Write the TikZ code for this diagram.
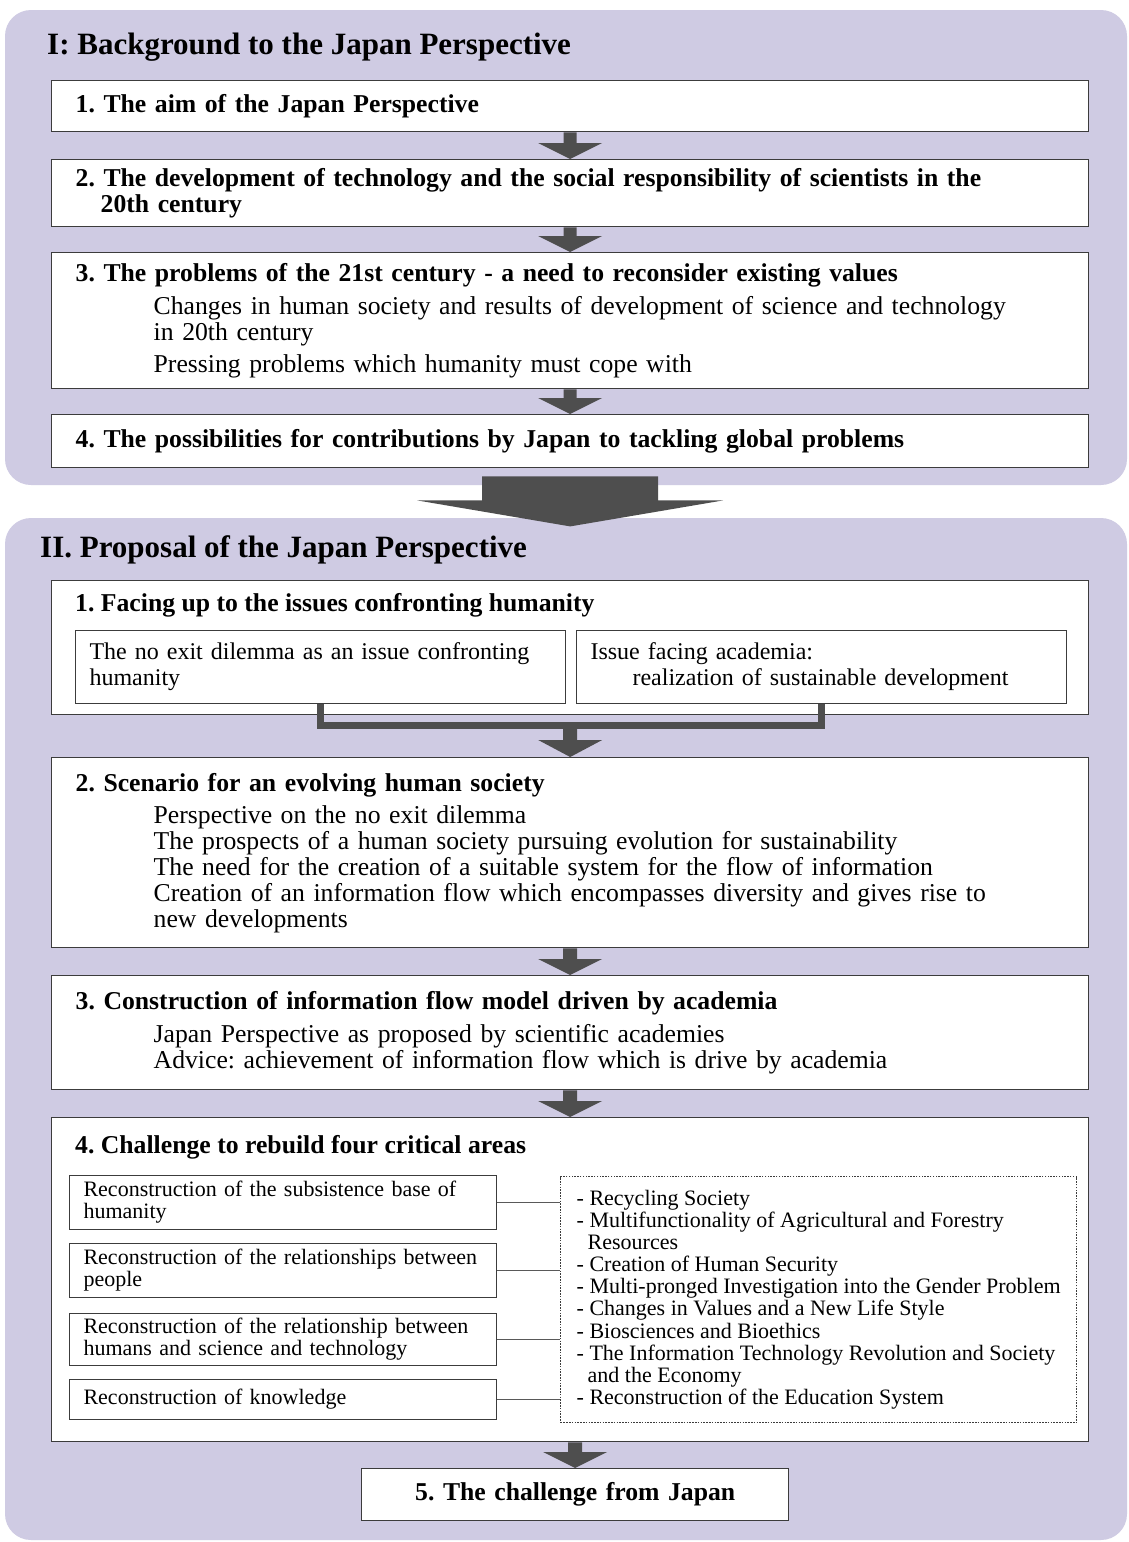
\documentclass[tikz,border=0pt]{standalone}
\usepackage{fontspec}
\setmainfont{Liberation Serif}
\usetikzlibrary{calc}
\definecolor{panelfill}{RGB}{207,203,227}
\definecolor{arrowgray}{RGB}{78,78,78}
\definecolor{linegray}{RGB}{60,60,60}
\newcommand\boxbody{\fontsize{25.7}{26}\selectfont\frenchspacing}
\newcommand\panelhead{\fontsize{31}{33}\selectfont\bfseries}
\newcommand\subbody{\fontsize{24}{26}\selectfont\frenchspacing}
\newcommand\smallbody{\fontsize{22}{22}\selectfont\frenchspacing}
\def\blockarrow(#1)(#2)(#3:#4:#5){\fill[arrowgray] let \p1=(#1), \p2=(#2) in (\x1-#3pt,\y1) -- (\x1-#3pt,\y2+#5pt) -- (\x1-#4pt,\y2+#5pt) -- (\x1,\y2) -- (\x1+#4pt,\y2+#5pt) -- (\x1+#3pt,\y2+#5pt) -- (\x1+#3pt,\y1) -- cycle;}

\begin{document}
\begin{tikzpicture}[x=1pt, y=-1pt,
    box/.style={draw=linegray, line width=1.4pt, fill=white, anchor=north west, inner xsep=24pt, inner ysep=3pt, text width=989pt, align=left, font=\boxbody},
    subbox/.style={draw=linegray, line width=1.1pt, fill=white, anchor=north west, inner xsep=14pt, inner ysep=2pt, text width=462pt, align=left, font=\subbody, minimum height=73pt},
    areabox/.style={draw=linegray, line width=1.1pt, fill=white, anchor=north west, inner xsep=14pt, inner ysep=2pt, text width=399pt, align=left, font=\smallbody},
    link/.style={draw=linegray!85, line width=1.2pt}]
    %%%%% START %%%%%

    \useasboundingbox (0,0) rectangle (1129,1542);
    \fill[white] (0,0) rectangle (1129,1542);

    % panels
    \fill[panelfill, rounded corners=26pt] (5,10) rectangle (1127,485);
    \fill[panelfill, rounded corners=26pt] (5,518) rectangle (1127,1540);

    \node[anchor=west, inner sep=0pt, font=\panelhead] (headI) at (47,47) {I: Background to the Japan Perspective};
    \node[anchor=west, inner sep=0pt, font=\panelhead] (headII) at (40,550) {II. Proposal of the Japan Perspective};

    % part I
    \node[box, minimum height=51pt] (aim) at (51,80) {\textbf{1. The aim of the Japan Perspective}};
    \node[box, minimum height=67pt] (devel) at (51,159) {\textbf{2. The development of technology and the social responsibility of scientists in the}\\
        \hspace*{25pt}\textbf{20th century}};
    \node[box, minimum height=136pt] (problems) at (51,252) {\textbf{3. The problems of the 21st century - a need to reconsider existing values}\\[7pt]
        \hspace*{78pt}Changes in human society and results of development of science and technology\\
        \hspace*{78pt}in 20th century\\[6pt]
        \hspace*{78pt}Pressing problems which humanity must cope with};
    \node[box, minimum height=53pt] (contrib) at (51,414) {\textbf{4. The possibilities for contributions by Japan to tackling global problems}};

    \blockarrow(aim.south)(devel.north)(6.5:32:16)
    \blockarrow(devel.south)(problems.north)(6.5:32:16)
    \blockarrow(problems.south)(contrib.north)(6.5:32:16)

    \coordinate (bigtop) at ([yshift=-8pt]contrib.south);
    \coordinate (bigtip) at ([yshift=-58pt]contrib.south);
    \blockarrow(bigtop)(bigtip)(88:153:26)

    % part II
    \node[box, minimum height=134pt] (facing) at (51,580) {};
    \node[anchor=west, inner sep=0pt, font=\boxbody\bfseries] (facinghead) at ([xshift=24pt,yshift=-25pt]facing.north west) {1. Facing up to the issues confronting humanity};
    \node[subbox] (dilemma) at (75,630) {The no exit dilemma as an issue confronting\\humanity};
    \node[subbox] (academia) at (576,630) {Issue facing academia:\\\hspace*{42pt}realization of sustainable development};

    \node[box, minimum height=190pt] (scenario) at (51,757) {\textbf{2. Scenario for an evolving human society}\\[6pt]
        \hspace*{78pt}Perspective on the no exit dilemma\\
        \hspace*{78pt}The prospects of a human society pursuing evolution for sustainability\\
        \hspace*{78pt}The need for the creation of a suitable system for the flow of information\\
        \hspace*{78pt}Creation of an information flow which encompasses diversity and gives rise to\\
        \hspace*{78pt}new developments};

    \coordinate (join) at ([yshift=-10pt]facing.south);
    \draw[arrowgray, line width=7pt] (dilemma.south) -- (dilemma.south |- join) -- (academia.south |- join) -- (academia.south);
    \blockarrow(join)(scenario.north)(7:32:17)

    \node[box, minimum height=114pt] (construct) at (51,975) {\textbf{3. Construction of information flow model driven by academia}\\[7pt]
        \hspace*{78pt}Japan Perspective as proposed by scientific academies\\
        \hspace*{78pt}Advice: achievement of information flow which is drive by academia};
    \blockarrow(scenario.south)(construct.north)(7:32:16)

    \node[box, minimum height=324pt] (rebuild) at (51,1117) {};
    \node[anchor=west, inner sep=0pt, font=\boxbody\bfseries] (rebuildhead) at ([xshift=24pt,yshift=-30pt]rebuild.north west) {4. Challenge to rebuild four critical areas};
    \blockarrow(construct.south)(rebuild.north)(7:32:16)

    \node[areabox, minimum height=54pt] (base) at (69,1175) {Reconstruction of the subsistence base of\\humanity};
    \node[areabox, minimum height=54pt] (relations) at (69,1243) {Reconstruction of the relationships between\\people};
    \node[areabox, minimum height=52pt] (scitech) at (69,1313) {Reconstruction of the relationship between\\humans and science and technology};
    \node[areabox, minimum height=40pt] (knowledge) at (69,1379) {Reconstruction of knowledge};

    \node[draw=linegray, line width=1.3pt, dash pattern=on 1.5pt off 1.3pt, fill=white, anchor=north west, minimum width=516pt, minimum height=246pt, inner sep=2pt, align=left, font=\fontsize{22}{22.1}\selectfont\frenchspacing] (areas) at (560,1176) {- Recycling Society\\
        - Multifunctionality of Agricultural and Forestry\\
        \hspace*{11pt}Resources\\
        - Creation of Human Security\\
        - Multi-pronged Investigation into the Gender Problem\\
        - Changes in Values and a New Life Style\\
        - Biosciences and Bioethics\\
        - The Information Technology Revolution and Society\\
        \hspace*{11pt}and the Economy\\
        - Reconstruction of the Education System};

    \draw[link] (base.east) -- (base.east -| areas.west);
    \draw[link] (relations.east) -- (relations.east -| areas.west);
    \draw[link] (scitech.east) -- (scitech.east -| areas.west);
    \draw[link] (knowledge.east) -- (knowledge.east -| areas.west);

    \node[box, minimum height=52pt, text width=379pt, align=center] (challenge) at (361,1468) {\textbf{5. The challenge from Japan}};
    \blockarrow(challenge.north |- rebuild.south)(challenge.north)(7:32:16)

    %%%%% END %%%%%
\end{tikzpicture}
\end{document}
